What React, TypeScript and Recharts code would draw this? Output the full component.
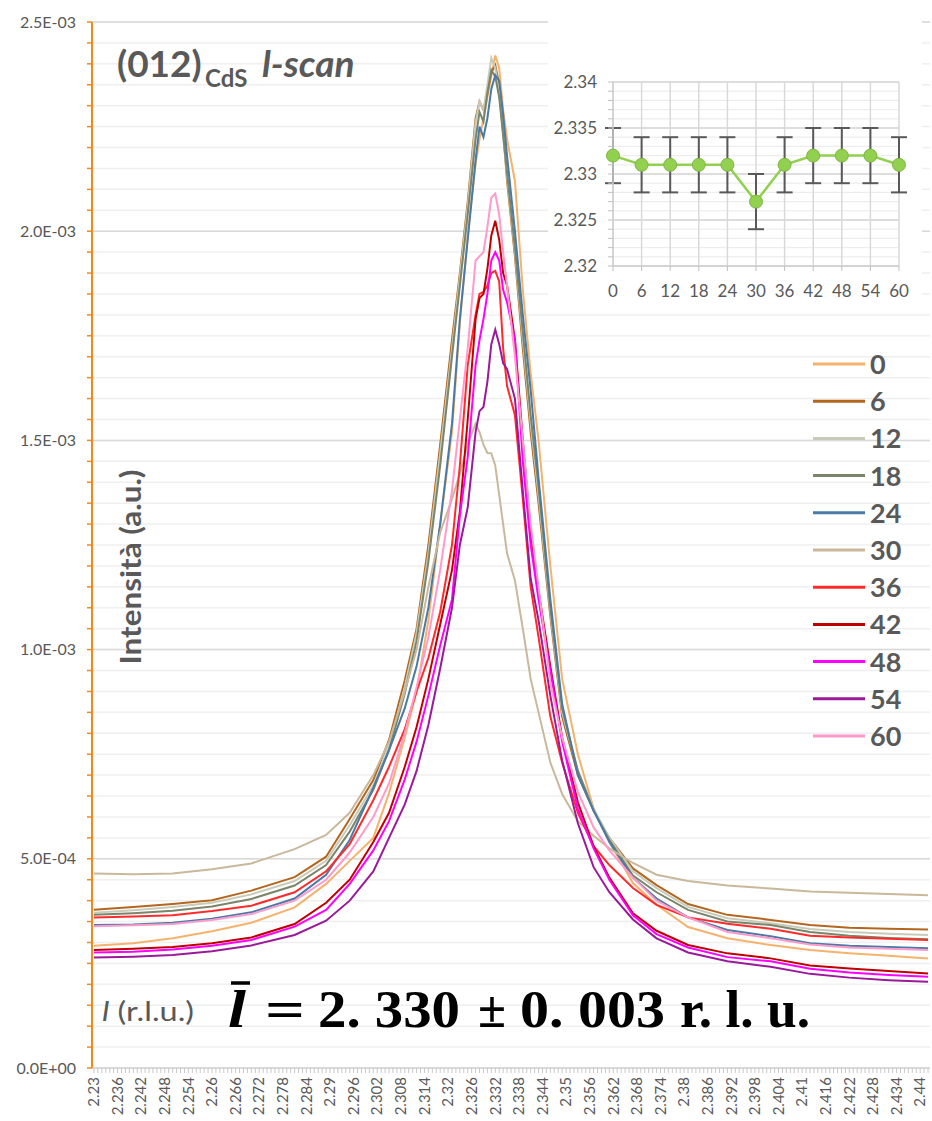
import React from 'react';
import { LineChart, Line, XAxis, YAxis, CartesianGrid, ErrorBar } from 'recharts';

const lPoints = [
  2.23, 2.24, 2.25, 2.26, 2.27, 2.281, 2.289, 2.295, 2.301, 2.305, 2.309, 2.312, 2.315, 2.318, 2.321,
  2.323, 2.325, 2.327, 2.328, 2.329, 2.33, 2.331, 2.332, 2.333, 2.334, 2.335, 2.337, 2.339, 2.341,
  2.343, 2.346, 2.349, 2.353, 2.357, 2.361, 2.367, 2.373, 2.381, 2.391, 2.402, 2.412, 2.422, 2.432, 2.442,
];

// intensities, in units of 1E-03
const scan0 = [0.292, 0.298, 0.31, 0.327, 0.347, 0.384, 0.44, 0.495, 0.55, 0.657, 0.79, 0.9, 1.07, 1.3, 1.52, 1.78, 1.99, 2.16, 2.22, 2.27, 2.32, 2.37, 2.42, 2.39, 2.29, 2.22, 2.12, 1.86, 1.66, 1.5, 1.2, 0.93, 0.75, 0.62, 0.54, 0.442, 0.39, 0.337, 0.31, 0.294, 0.282, 0.274, 0.268, 0.262];
const scan6 = [0.378, 0.385, 0.392, 0.401, 0.424, 0.456, 0.505, 0.595, 0.688, 0.784, 0.927, 1.05, 1.25, 1.49, 1.74, 1.9, 2.07, 2.27, 2.31, 2.29, 2.33, 2.38, 2.397, 2.35, 2.24, 2.12, 1.94, 1.72, 1.52, 1.35, 1.08, 0.84, 0.7, 0.615, 0.55, 0.477, 0.437, 0.392, 0.366, 0.354, 0.342, 0.335, 0.333, 0.331];
const scan12 = [0.371, 0.377, 0.385, 0.395, 0.415, 0.447, 0.495, 0.58, 0.675, 0.77, 0.91, 1.04, 1.23, 1.47, 1.72, 1.89, 2.06, 2.26, 2.31, 2.29, 2.35, 2.414, 2.39, 2.33, 2.23, 2.13, 1.95, 1.74, 1.54, 1.37, 1.09, 0.85, 0.71, 0.62, 0.55, 0.47, 0.43, 0.385, 0.358, 0.346, 0.332, 0.325, 0.321, 0.318];
const scan18 = [0.366, 0.37, 0.376, 0.386, 0.404, 0.436, 0.485, 0.565, 0.665, 0.76, 0.895, 1.02, 1.21, 1.44, 1.7, 1.87, 2.04, 2.22, 2.285, 2.262, 2.33, 2.385, 2.37, 2.32, 2.23, 2.14, 1.96, 1.76, 1.56, 1.39, 1.1, 0.86, 0.71, 0.615, 0.545, 0.46, 0.42, 0.378, 0.35, 0.342, 0.325, 0.316, 0.311, 0.308];
const scan24 = [0.342, 0.343, 0.347, 0.357, 0.372, 0.405, 0.462, 0.545, 0.67, 0.76, 0.86, 0.96, 1.1, 1.3, 1.54, 1.79, 1.98, 2.17, 2.25, 2.225, 2.27, 2.34, 2.373, 2.36, 2.28, 2.18, 2.0, 1.8, 1.62, 1.41, 1.12, 0.87, 0.7, 0.615, 0.54, 0.455, 0.405, 0.36, 0.33, 0.315, 0.298, 0.292, 0.289, 0.286];
const scan30 = [0.465, 0.463, 0.465, 0.475, 0.489, 0.523, 0.557, 0.61, 0.7, 0.78, 0.9, 1.0, 1.15, 1.28, 1.36, 1.42, 1.49, 1.54, 1.52, 1.49, 1.47, 1.469, 1.44, 1.37, 1.3, 1.23, 1.165, 1.05, 0.93, 0.85, 0.73, 0.655, 0.59, 0.555, 0.525, 0.49, 0.462, 0.447, 0.436, 0.429, 0.422, 0.419, 0.416, 0.413];
const scan36 = [0.36, 0.362, 0.365, 0.375, 0.388, 0.42, 0.47, 0.535, 0.64, 0.72, 0.81, 0.9, 0.98, 1.09, 1.25, 1.44, 1.68, 1.8, 1.85, 1.855, 1.87, 1.9, 1.905, 1.88, 1.72, 1.63, 1.56, 1.36, 1.15, 1.03, 0.84, 0.73, 0.61, 0.53, 0.485, 0.43, 0.39, 0.36, 0.345, 0.333, 0.316, 0.312, 0.309, 0.306];
const scan42 = [0.282, 0.285, 0.289, 0.298, 0.312, 0.344, 0.395, 0.45, 0.54, 0.61, 0.72, 0.815, 0.93, 1.06, 1.19, 1.33, 1.55, 1.79, 1.84, 1.85, 1.91, 1.99, 2.025, 1.98, 1.9, 1.87, 1.74, 1.5, 1.28, 1.14, 0.96, 0.79, 0.635, 0.53, 0.455, 0.37, 0.328, 0.294, 0.274, 0.262, 0.245, 0.238, 0.232, 0.226];
const scan48 = [0.276, 0.278, 0.283, 0.292, 0.306, 0.338, 0.378, 0.44, 0.52, 0.59, 0.69, 0.78, 0.89, 1.01, 1.12, 1.32, 1.46, 1.68, 1.74, 1.79, 1.85, 1.93, 1.95, 1.93, 1.86, 1.83, 1.74, 1.45, 1.25, 1.12, 0.95, 0.78, 0.62, 0.525, 0.45, 0.365, 0.32, 0.288, 0.265, 0.255, 0.237, 0.228, 0.222, 0.218];
const scan54 = [0.264, 0.266, 0.27, 0.279, 0.293, 0.318, 0.352, 0.4, 0.47, 0.55, 0.63, 0.71, 0.82, 0.955, 1.1, 1.25, 1.34, 1.52, 1.57, 1.58, 1.64, 1.73, 1.765, 1.73, 1.685, 1.67, 1.6, 1.38, 1.17, 1.07, 0.89, 0.735, 0.585, 0.48, 0.42, 0.355, 0.31, 0.276, 0.255, 0.242, 0.225, 0.216, 0.21, 0.206];
const scan60 = [0.339, 0.341, 0.344, 0.354, 0.368, 0.4, 0.45, 0.515, 0.6, 0.68, 0.8, 0.91, 1.03, 1.19, 1.38, 1.55, 1.72, 1.93, 1.94, 1.95, 2.01, 2.08, 2.09, 2.04, 1.95, 1.87, 1.7, 1.5, 1.3, 1.15, 0.92, 0.79, 0.66, 0.575, 0.52, 0.455, 0.4, 0.36, 0.325, 0.31, 0.295, 0.288, 0.285, 0.282];

const seriesNames = ['0', '6', '12', '18', '24', '30', '36', '42', '48', '54', '60'];
const seriesColors = ['#F5B26C', '#B4661E', '#C8CBBA', '#7A8569', '#4A7AA5', '#C9B89B', '#FF2A2A', '#C00000', '#FF00FF', '#9A1A9A', '#FF9ACB'];
const seriesValues = [scan0, scan6, scan12, scan18, scan24, scan30, scan36, scan42, scan48, scan54, scan60];

const yMajorTicks = [0, 0.5, 1, 1.5, 2, 2.5];
const yTickLabels = ['0.0E+00', '5.0E-04', '1.0E-03', '1.5E-03', '2.0E-03', '2.5E-03'];
const xTickLabels = [
  '2.23', '2.236', '2.242', '2.248', '2.254', '2.26', '2.266', '2.272', '2.278', '2.284', '2.29', '2.296',
  '2.302', '2.308', '2.314', '2.32', '2.326', '2.332', '2.338', '2.344', '2.35', '2.356', '2.362', '2.368',
  '2.374', '2.38', '2.386', '2.392', '2.398', '2.404', '2.41', '2.416', '2.422', '2.428', '2.434', '2.44',
];

// inset: fitted peak position vs time
const insetTimes = [0, 6, 12, 18, 24, 30, 36, 42, 48, 54, 60];
const insetPeak = [2.332, 2.331, 2.331, 2.331, 2.331, 2.327, 2.331, 2.332, 2.332, 2.332, 2.331];
const insetErr = [0.003, 0.003, 0.003, 0.003, 0.003, 0.003, 0.003, 0.003, 0.003, 0.003, 0.003];
const insetYMajor = [2.32, 2.325, 2.33, 2.335, 2.34];
const insetYLabels = ['2.32', '2.325', '2.33', '2.335', '2.34'];

const FONT = 'Lato, "Open Sans", sans-serif';
const GREY = '#595959';

const rows = lPoints.map((l, i) => {
  const row: Record<string, number> = { l };
  seriesNames.forEach((n, k) => {
    row['s' + n] = seriesValues[k][i];
  });
  return row;
});

const insetRows = insetTimes.map((t, i) => ({ t, peak: insetPeak[i], err: insetErr[i] }));

// minor ticks: every 5E-05 on y, every 0.001 on l
const yMinorTicks = Array.from({ length: 51 }, (_, i) => (i * 5) / 100);
const xMinorTicks = Array.from({ length: 213 }, (_, i) => Math.round((2.23 + i * 0.001) * 1000) / 1000);
const insetYMinor = Array.from({ length: 21 }, (_, i) => Math.round((2.32 + i * 0.001) * 1000) / 1000);

const MainYTick = (props: any) => {
  const { x, y, payload } = props;
  const idx = yMajorTicks.findIndex((t) => Math.abs(t - payload.value) < 1e-6);
  if (idx < 0) return <g />;
  return (
    <text x={x - 9} y={y} dy="0.35em" textAnchor="end" fill={GREY} fontSize={16} fontFamily={FONT}>
      {yTickLabels[idx]}
    </text>
  );
};

const MainXTick = (props: any) => {
  const { x, y, payload } = props;
  const label = xTickLabels.find((s) => Math.abs(parseFloat(s) - payload.value) < 1e-6);
  if (!label) return <g />;
  return (
    <text
      x={x}
      y={y + 2}
      dy="0.35em"
      textAnchor="end"
      transform={`rotate(-90 ${x} ${y + 2})`}
      fill={GREY}
      fontSize={15}
      fontFamily={FONT}
    >
      {label}
    </text>
  );
};

const InsetYTick = (props: any) => {
  const { x, y, payload } = props;
  const idx = insetYMajor.findIndex((t) => Math.abs(t - payload.value) < 1e-6);
  if (idx < 0) return <g />;
  return (
    <text x={x - 9} y={y} dy="0.35em" textAnchor="end" fill={GREY} fontSize={17} fontFamily={FONT}>
      {insetYLabels[idx]}
    </text>
  );
};

const InsetXTick = (props: any) => {
  const { x, y, payload } = props;
  return (
    <text x={x} y={y + 24} textAnchor="middle" fill={GREY} fontSize={17} fontFamily={FONT}>
      {payload.value}
    </text>
  );
};

const App: React.FC = () => {
  return (
    <div style={{ position: 'absolute', left: 0, top: 0, width: 932, height: 1121, background: '#fff' }}>
      <LineChart width={932} height={1121} data={rows} margin={{ top: 22, right: 2, bottom: 0, left: 0 }}>
        <CartesianGrid vertical={false} stroke="#EFEFEF" strokeWidth={1.5} />
        <CartesianGrid vertical={false} horizontalValues={yMajorTicks} stroke="#D9D9D9" strokeWidth={1.5} />
        <XAxis
          dataKey="l"
          type="number"
          domain={[2.2295, 2.4425]}
          ticks={xMinorTicks}
          interval={0}
          height={53}
          tickSize={5}
          axisLine={{ stroke: '#D9D9D9', strokeWidth: 1.5 }}
          tickLine={{ stroke: '#C8C8C8' }}
          tick={<MainXTick />}
        />
        <YAxis
          type="number"
          domain={[0, 2.5]}
          ticks={yMinorTicks}
          interval={0}
          width={92}
          tickSize={5}
          axisLine={{ stroke: '#EE8A1F', strokeWidth: 2 }}
          tickLine={{ stroke: '#EE8A1F', strokeWidth: 1.5 }}
          tick={<MainYTick />}
        />
        {seriesNames.map((n, k) => (
          <Line
            key={n}
            type="linear"
            dataKey={'s' + n}
            stroke={seriesColors[k]}
            strokeWidth={2}
            dot={false}
            isAnimationActive={false}
          />
        ))}
      </LineChart>

      <div style={{ position: 'absolute', left: 548, top: 20, width: 374, height: 292, background: '#fff' }}>
        <LineChart width={374} height={292} data={insetRows} margin={{ top: 62, right: 23, bottom: 0, left: 0 }}>
          <CartesianGrid vertical={false} stroke="#EDEDED" strokeWidth={1.2} />
          <CartesianGrid vertical={false} horizontalValues={insetYMajor} stroke="#D4D4D4" strokeWidth={1.5} />
          <CartesianGrid horizontal={false} stroke="#D9D9D9" strokeWidth={1.5} />
          <XAxis
            dataKey="t"
            type="number"
            domain={[0, 60]}
            ticks={insetTimes}
            interval={0}
            height={46}
            tickSize={5}
            axisLine={{ stroke: '#D0D0D0', strokeWidth: 1.5 }}
            tickLine={{ stroke: '#BFBFBF' }}
            tick={<InsetXTick />}
          />
          <YAxis
            type="number"
            domain={[2.32, 2.34]}
            ticks={insetYMinor}
            interval={0}
            width={65}
            tickSize={5}
            axisLine={{ stroke: '#D0D0D0', strokeWidth: 1.5 }}
            tickLine={{ stroke: '#BFBFBF' }}
            tick={<InsetYTick />}
          />
          <Line
            type="linear"
            dataKey="peak"
            stroke="#92D050"
            strokeWidth={2.5}
            dot={{ r: 6.5, fill: '#92D050', stroke: '#7FB540', strokeWidth: 1 }}
            isAnimationActive={false}
          >
            <ErrorBar dataKey="err" width={8} stroke="#595959" strokeWidth={2} direction="y" />
          </Line>
        </LineChart>
      </div>

      <svg width={932} height={1121} style={{ position: 'absolute', left: 0, top: 0, pointerEvents: 'none' }}>
        <text x={117} y={77} fontFamily={FONT} fontWeight={700} fontSize={37} fill={GREY}>(012)</text>
        <text x={205} y={87} fontFamily={FONT} fontWeight={700} fontSize={24} fill={GREY}>CdS</text>
        <text x={262} y={77} fontFamily={FONT} fontWeight={700} fontStyle="italic" fontSize={37} fill={GREY}>l-scan</text>

        <text
          x={141}
          y={567}
          transform="rotate(-90 141 567)"
          textAnchor="middle"
          fontFamily={FONT}
          fontWeight={700}
          fontSize={28}
          fill={GREY}
          textLength={195}
          lengthAdjust="spacingAndGlyphs"
        >
          Intensità (a.u.)
        </text>

        <text x={102} y={1021} fontFamily={FONT} fontSize={27} fill={GREY} textLength={92} lengthAdjust="spacingAndGlyphs">
          <tspan fontStyle="italic">l</tspan> (r.l.u.)
        </text>

        {seriesNames.map((n, k) => {
          const y = 364 + k * 37.2;
          return (
            <g key={n}>
              <line x1={813} x2={865} y1={y} y2={y} stroke={seriesColors[k]} strokeWidth={3} />
              <text x={870} y={y + 10} fontFamily={FONT} fontWeight={700} fontSize={27} fill={GREY}>{n}</text>
            </g>
          );
        })}

        <g fontFamily='"Liberation Serif", "DejaVu Serif", serif' fontWeight={700} fontSize={52} fill="#000">
          <line x1={231} x2={250} y1={983} y2={983} stroke="#000" strokeWidth={3.5} />
          <text x={228} y={1027} fontStyle="italic" textLength={18} lengthAdjust="spacingAndGlyphs">l</text>
          <text x={265} y={1027} textLength={40} lengthAdjust="spacingAndGlyphs">=</text>
          <text x={318} y={1027} textLength={142} lengthAdjust="spacingAndGlyphs">2. 330</text>
          <text x={478} y={1027} textLength={28} lengthAdjust="spacingAndGlyphs">±</text>
          <text x={520} y={1027} textLength={145} lengthAdjust="spacingAndGlyphs">0. 003</text>
          <text x={680} y={1027} textLength={130} lengthAdjust="spacingAndGlyphs">r. l. u.</text>
        </g>
      </svg>
    </div>
  );
};

export default App;
